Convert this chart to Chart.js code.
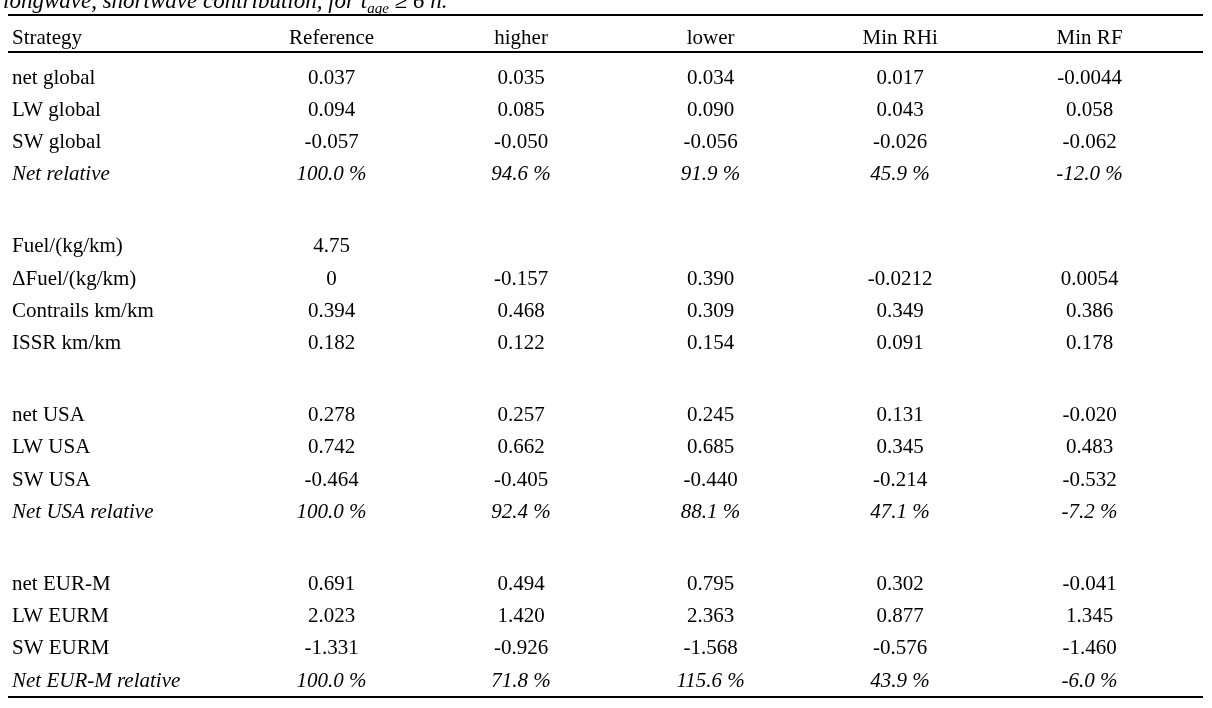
<!DOCTYPE html>
<html><head><meta charset="utf-8">
<script src="https://cdn.jsdelivr.net/npm/chart.js@4"></script>
<style>html,body{margin:0;padding:0;background:#fff;overflow:hidden}#wrap{width:1212px;height:708px;position:relative}</style>
</head><body><div id="wrap"><canvas id="c" width="1212" height="708"></canvas></div>
<script>
// ---- data ----
const captionMain = 'longwave, shortwave contribution, for t';
const captionSub = 'age';
const captionTail = ' \u2265 6 h.';
const columns = ['Strategy', 'Reference', 'higher', 'lower', 'Min RHi', 'Min RF'];
const rowLabels = [
  'net global', 'LW global', 'SW global', 'Net relative',
  'Fuel/(kg/km)', '\u0394Fuel/(kg/km)', 'Contrails km/km', 'ISSR km/km',
  'net USA', 'LW USA', 'SW USA', 'Net USA relative',
  'net EUR-M', 'LW EURM', 'SW EURM', 'Net EUR-M relative'
];
const italicRows = ['Net relative', 'Net USA relative', 'Net EUR-M relative'];
const referenceVals = ['0.037', '0.094', '-0.057', '100.0 %', '4.75', '0', '0.394', '0.182', '0.278', '0.742', '-0.464', '100.0 %', '0.691', '2.023', '-1.331', '100.0 %'];
const higherVals = ['0.035', '0.085', '-0.050', '94.6 %', null, '-0.157', '0.468', '0.122', '0.257', '0.662', '-0.405', '92.4 %', '0.494', '1.420', '-0.926', '71.8 %'];
const lowerVals = ['0.034', '0.090', '-0.056', '91.9 %', null, '0.390', '0.309', '0.154', '0.245', '0.685', '-0.440', '88.1 %', '0.795', '2.363', '-1.568', '115.6 %'];
const minRHiVals = ['0.017', '0.043', '-0.026', '45.9 %', null, '-0.0212', '0.349', '0.091', '0.131', '0.345', '-0.214', '47.1 %', '0.302', '0.877', '-0.576', '43.9 %'];
const minRFVals = ['-0.0044', '0.058', '-0.062', '-12.0 %', null, '0.0054', '0.386', '0.178', '-0.020', '0.483', '-0.532', '-7.2 %', '-0.041', '1.345', '-1.460', '-6.0 %'];

// ---- layout helpers ----
const GROUP = 4, GAP = 1.25;
const rowPos = i => Math.floor(i / GROUP) * (GROUP + GAP) + (i % GROUP);
const HEADER_POS = -1.24;
const valueCols = [referenceVals, higherVals, lowerVals, minRHiVals, minRFVals];

const FONT = '"Liberation Serif", "Times New Roman", serif';
const FS = 21;

const datasets = [];
datasets.push({
  label: columns[0],
  data: rowLabels.map((t, i) => ({x: 0, y: rowPos(i), t, it: italicRows.includes(t)}))
});
valueCols.forEach((arr, c) => {
  datasets.push({
    label: columns[c + 1],
    data: arr.map((t, i) => t === null ? null : ({x: c + 1, y: rowPos(i), t, it: italicRows.includes(rowLabels[i])})).filter(d => d)
  });
});
datasets.push({
  label: 'header',
  data: columns.map((t, c) => ({x: c, y: HEADER_POS, t, it: false}))
});

const tablePlugin = {
  id: 'tableText',
  afterDatasetsDraw(chart) {
    const ctx = chart.ctx;
    const ys = chart.scales.y;
    const left = chart.chartArea.left + 12;
    ctx.save();
    ctx.fillStyle = '#000';
    ctx.textBaseline = 'middle';
    chart.data.datasets.forEach((ds, di) => {
      const meta = chart.getDatasetMeta(di);
      meta.data.forEach((el, i) => {
        const d = ds.data[i];
        ctx.font = (d.it ? 'italic ' : '') + FS + 'px ' + FONT;
        if (d.x === 0) { ctx.textAlign = 'left'; ctx.fillText(d.t, left, el.y); }
        else { ctx.textAlign = 'center'; ctx.fillText(d.t, el.x, el.y); }
      });
    });
    // rules
    const x0 = chart.chartArea.left + 8, x1 = chart.chartArea.right - 9;
    const rule = (p, w) => {
      const y = ys.getPixelForValue(p);
      ctx.fillRect(x0, Math.round(y - w / 2), x1 - x0, w);
    };
    rule(-1.96, 2);
    rule(-0.81, 2);
    rule(19.25, 2);
    // caption (cut off at top)
    ctx.font = 'italic 23px ' + FONT;
    ctx.textAlign = 'left';
    ctx.textBaseline = 'alphabetic';
    const cy = ys.getPixelForValue(-2.18);
    let w = chart.chartArea.left + 3;
    ctx.fillText(captionMain, w, cy);
    w += ctx.measureText(captionMain).width;
    ctx.font = 'italic 15px ' + FONT;
    ctx.fillText(captionSub, w, cy + 5);
    w += ctx.measureText(captionSub).width;
    ctx.font = 'italic 23px ' + FONT;
    ctx.fillText(captionTail, w, cy);
    ctx.restore();
  }
};

new Chart(document.getElementById('c'), {
  type: 'scatter',
  data: {datasets},
  options: {
    responsive: false,
    animation: false,
    events: [],
    layout: {padding: 0},
    elements: {point: {radius: 0, hoverRadius: 0}},
    plugins: {legend: {display: false}, tooltip: {enabled: false}},
    scales: {
      x: {type: 'linear', display: false, min: -0.75, max: 5.646},
      y: {type: 'linear', display: false, reverse: true, min: -2.425, max: 19.59}
    }
  },
  plugins: [tablePlugin]
});
</script>
</body></html>
